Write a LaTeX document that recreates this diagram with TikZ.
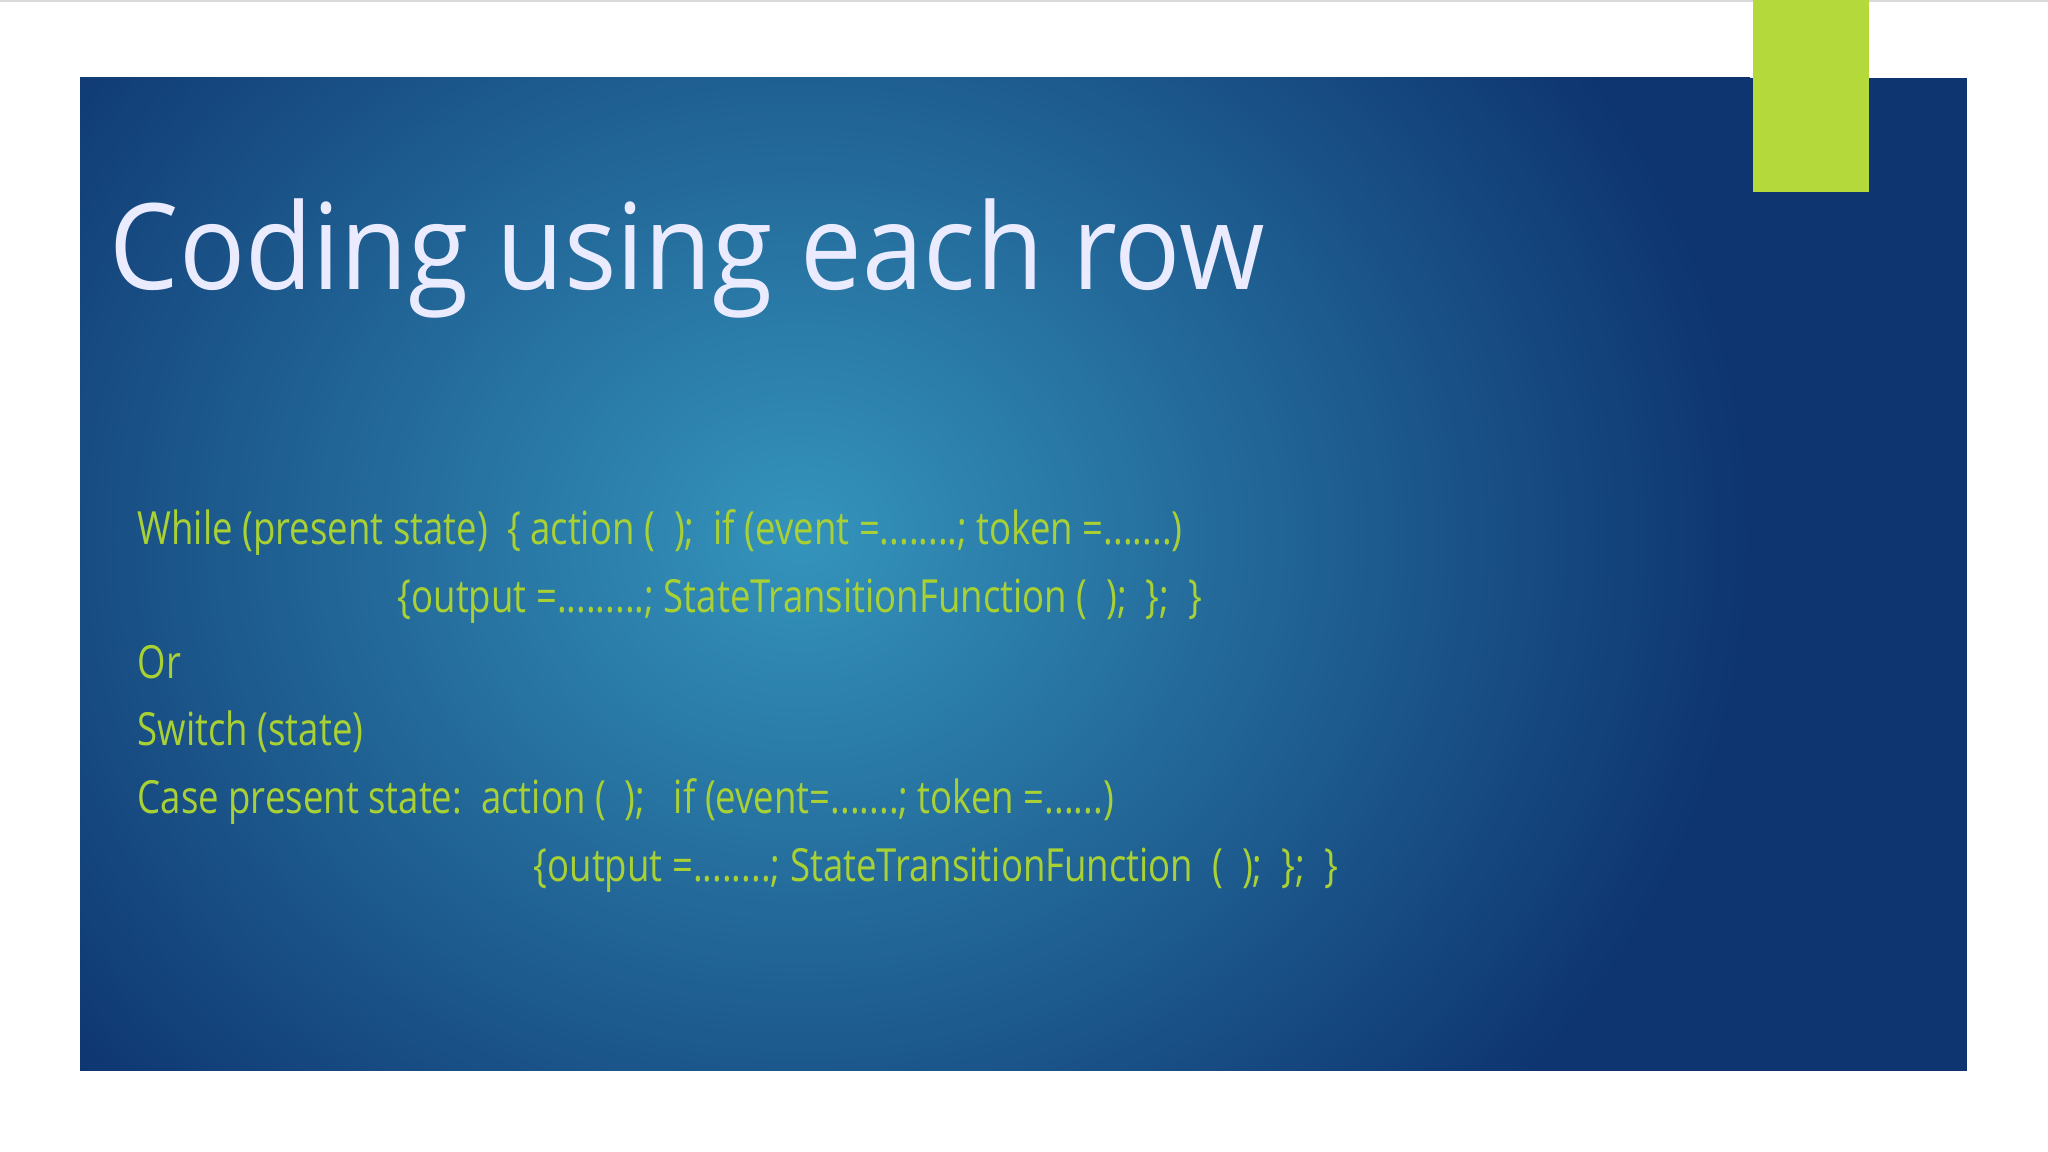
\documentclass[tikz,border=0pt]{standalone}
\usepackage{fontspec}
\setmainfont{Open Sans}
\newfontfamily\titlefont[FakeStretch=0.92]{Open Sans}
\newfontfamily\bodyfont[FakeStretch=0.8]{Open Sans}
\definecolor{navy}{HTML}{0E3570}
\definecolor{teal}{HTML}{3494BC}
\definecolor{lime}{HTML}{A9D134}
\definecolor{limet}{HTML}{B4D93A}
\tikzset{body/.style={anchor=base west,inner sep=0pt,text=lime,font=\bodyfont\fontsize{13}{16}\selectfont}}
\begin{document}
\begin{tikzpicture}
\useasboundingbox (0,0) rectangle (20.48,11.52);
\fill[white] (0,0) rectangle (20.48,11.52);
\begin{scope}
\clip (0.80,0.81) rectangle (19.67,10.74);
\fill[navy] (0.80,0.81) rectangle (19.67,10.74);
\shade[inner color=teal,outer color=navy] (-1.5,-2.2) rectangle (17.5,14.5);
\end{scope}
\draw[gray!30] (0,11.51) -- (20.48,11.51);
\fill[limet] (17.53,9.60) rectangle (18.69,11.52);
\node[anchor=base west,inner sep=0pt,text=white!92!blue,font=\titlefont\fontsize{34}{40}\selectfont] (title) at (1.09,8.62) {Coding using each row};
\node[body] (l1) at (1.37,6.07) {While (present state)\ \ \{ action (\ \ );\ \ if (event =........; token =.......)};
\node[body] (l2) at (3.97,5.39) {\{output =.........; StateTransitionFunction (\ \ );\ \ \};\ \ \}};
\node[body] (l3) at (1.37,4.73) {Or};
\node[body] (l4) at (1.37,4.06) {Switch (state)};
\node[body] (l5) at (1.37,3.38) {Case present state:\ \ action (\ \ );\ \ \ if (event=.......; token =......)};
\node[body] (l6) at (5.33,2.70) {\{output =........; StateTransitionFunction\ \ (\ \ );\ \ \};\ \ \}};
\end{tikzpicture}
\end{document}
